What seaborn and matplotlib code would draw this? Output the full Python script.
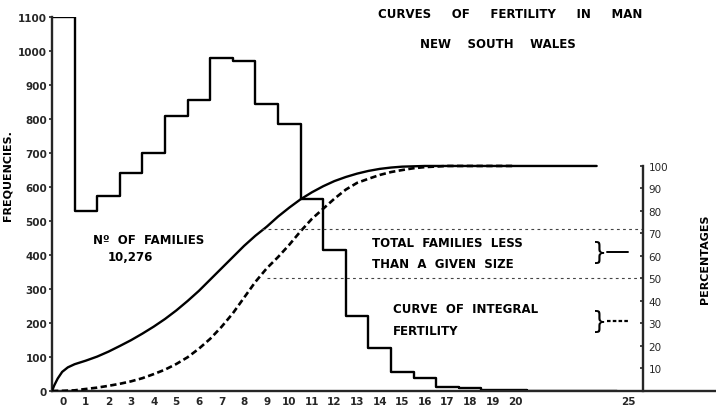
import pandas as pd
import seaborn as sns
import matplotlib.pyplot as plt

# number of families by family size (stepped histogram, left scale)
family_size = list(range(0, 25))
families = [1100, 530, 575, 640, 700, 810, 855, 980, 970, 845, 785, 565, 415,
            220, 126, 55, 37, 12, 8, 4, 2, 1, 1, 1, 1]

# total families less than a given size, percent (solid curve, right scale)
total_x = [-0.5, -0.4, -0.25, -0.05, 0.2, 0.5, 1.0, 1.5, 2.0, 2.5, 3.0, 3.5,
           4.0, 4.5, 5.0, 5.5, 6.0, 6.5, 7.0, 7.5, 8.0, 8.5, 9.0, 9.5, 10.0,
           10.5, 11.0, 11.5, 12.0, 12.5, 13.0, 13.5, 14.0, 14.5, 15.0, 16.0, 23.6]
total_pct = [0, 2.5, 5.5, 8.5, 10.5, 11.9, 13.5, 15.3, 17.5, 20.0, 22.6, 25.5,
             28.6, 32.0, 35.8, 40.0, 44.5, 49.5, 54.5, 59.5, 64.5, 69.0, 73.0, 77.5, 81.5,
             85.2, 88.3, 91.0, 93.3, 95.1, 96.6, 97.8, 98.7, 99.3, 99.7, 100, 100]

# curve of integral fertility, percent (dashed curve, right scale)
integral_x = [-0.5, 0.0, 0.5, 1.0, 1.5, 2.0, 2.5, 3.0, 3.5, 4.0, 4.5, 5.0,
              5.5, 6.0, 6.5, 7.0, 7.5, 8.0, 8.5, 9.0, 9.5, 10.0, 10.5, 11.0,
              11.5, 12.0, 12.5, 13.0, 13.5, 14.0, 14.5, 15.0, 15.5, 16.0, 17.0, 20.0]
integral_pct = [0, 0.1, 0.3, 0.9, 1.5, 2.3, 3.2, 4.3, 5.7, 7.5, 9.5, 12.0,
                15.0, 18.8, 23.2, 28.5, 34.5, 41.5, 48.5, 54.5, 59.5, 65.0, 71.0, 76.5,
                81.0, 85.5, 89.5, 92.5, 94.3, 96.0, 97.3, 98.2, 99.0, 99.5, 100, 100]

# dotted guide levels (percent) and where they start
guide_levels = [72, 50]
guide_starts = [8.8, 9.0]

x_ticks = list(range(0, 21)) + [25]
freq_ticks = list(range(0, 1101, 100))
pct_ticks = list(range(10, 101, 10))

sns.set_style('white')
plt.rcParams['font.family'] = ['DejaVu Sans']

BOLD = dict(fontweight='bold', color='black')
PCT_AXIS_X = 25.65
PCT_TOP = 166.2   # 100 % sits at 662 families on the left scale

fig = plt.figure(figsize=(7.16, 4.10), dpi=100)
ax = fig.add_axes([52 / 716, 18 / 410, 664 / 716, 374 / 410])

# histogram of families
hist_df = pd.DataFrame({'size': family_size, 'families': families})
sns.histplot(data=hist_df, x='size', weights='families', discrete=True,
             element='step', fill=False, color='black', linewidth=1.7, ax=ax)

ax.set_xlim(-0.5, -0.5 + 664 / 22.6)
ax.set_ylim(0, 1100)
ax.set_xticks(x_ticks)
ax.set_yticks(freq_ticks)
ax.tick_params(axis='x', length=0, pad=3.5, labelsize=7.5)
ax.tick_params(axis='y', length=2, width=1.2, pad=1.5, labelsize=7.5)
for lab in ax.get_xticklabels() + ax.get_yticklabels():
  lab.set_fontweight('bold')
ax.spines['top'].set_visible(False)
ax.spines['right'].set_visible(False)
ax.spines['left'].set_linewidth(1.7)
ax.spines['bottom'].set_linewidth(1.7)
ax.set_xlabel('')
ax.set_ylabel('FREQUENCIES.', fontsize=8, **BOLD)
ax.yaxis.set_label_coords(-0.06, 0.578)

# percentage scale
ax2 = ax.twinx()
sns.lineplot(x=total_x, y=total_pct, ax=ax2, color='black', linewidth=1.7,
             sort=False, estimator=None)
sns.lineplot(x=integral_x, y=integral_pct, ax=ax2, color='black', linewidth=1.9,
             linestyle=(0, (2.4, 1.3)), sort=False, estimator=None)
for lvl, x0 in zip(guide_levels, guide_starts):
  ax2.plot([x0, PCT_AXIS_X], [lvl, lvl], color='#444444', linewidth=0.8,
           linestyle=(0, (2.5, 3)))

ax2.set_ylim(0, PCT_TOP)
ax2.set_yticks(pct_ticks)
ax2.tick_params(axis='y', direction='in', length=2.5, width=1.2, pad=4, labelsize=7.5)
for lab in ax2.get_yticklabels():
  lab.set_fontweight('bold')
for side in ['top', 'left', 'bottom']:
  ax2.spines[side].set_visible(False)
ax2.spines['right'].set_position(('data', PCT_AXIS_X))
ax2.spines['right'].set_bounds(0, 100)
ax2.spines['right'].set_linewidth(1.7)
ax2.set_ylabel('PERCENTAGES', fontsize=8, rotation=90, **BOLD)
ax2.yaxis.set_label_coords(0.976, 0.356)

# key marks beside the braces
ax2.plot([24.05, 25.0], [61.8, 61.8], color='black', linewidth=1.4)
ax2.plot([24.05, 25.0], [31.1, 31.1], color='black', linewidth=1.6,
         linestyle=(0, (1.6, 1.0)))
ax2.text(23.75, 61.8, '}', fontsize=17, ha='center', va='center', color='black')
ax2.text(23.75, 31.1, '}', fontsize=17, ha='center', va='center', color='black')

# annotations
ax.text(3.77, 447, 'Nº  OF  FAMILIES', fontsize=8.5, ha='center', va='center', **BOLD)
ax.text(2.95, 397, '10,276', fontsize=8.5, ha='center', va='center', **BOLD)
ax.text(13.66, 438, 'TOTAL  FAMILIES  LESS', fontsize=8.5, ha='left', va='center', **BOLD)
ax.text(13.66, 376, 'THAN  A  GIVEN  SIZE', fontsize=8.5, ha='left', va='center', **BOLD)
ax.text(14.59, 244, 'CURVE  OF  INTEGRAL', fontsize=8.5, ha='left', va='center', **BOLD)
ax.text(14.59, 179, 'FERTILITY', fontsize=8.5, ha='left', va='center', **BOLD)

fig.text(510 / 716, 1 - 15 / 410, 'CURVES     OF     FERTILITY     IN     MAN',
         fontsize=8.5, ha='center', va='center', **BOLD)
fig.text(498 / 716, 1 - 45 / 410, 'NEW    SOUTH    WALES',
         fontsize=8.5, ha='center', va='center', **BOLD)

fig.savefig('out.png', dpi=100)
